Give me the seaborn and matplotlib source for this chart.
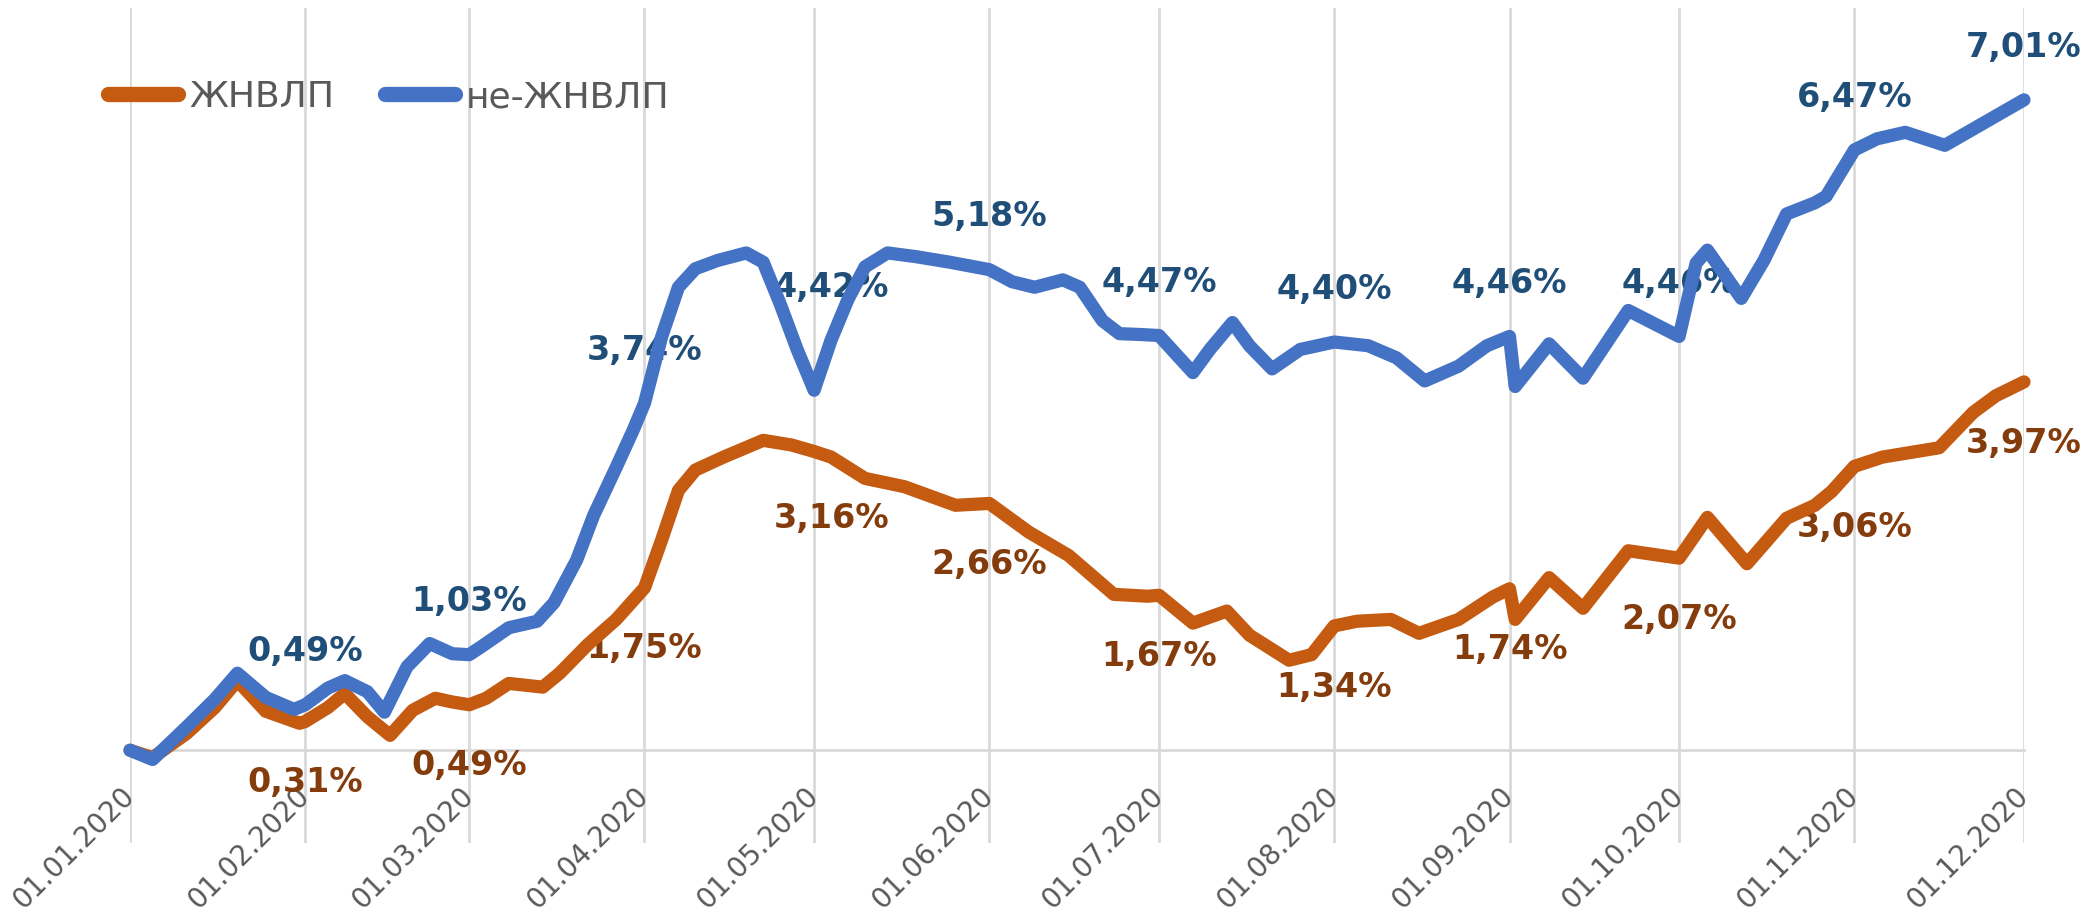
import numpy as np
import pandas as pd
import matplotlib
matplotlib.use("Agg")
import matplotlib.pyplot as plt
from matplotlib.lines import Line2D
from matplotlib.transforms import ScaledTranslation
import matplotlib.dates as mdates
import seaborn as sns

# ---- data -----------------------------------------------------------------
series_names = ["ЖНВЛП", "не-ЖНВЛП"]
start_date = "2020-01-01"
end_date = "2020-12-01"

# day offsets from 01.01.2020 and cumulative price change, %
vital_days = [0, 4, 10, 15, 19, 24, 30, 31, 35, 38, 42, 46, 50, 54, 57, 60,
              63, 67, 73, 76, 81, 86, 91, 94, 97, 100, 105, 112, 117, 121,
              124, 130, 137, 146, 152, 159, 166, 174, 180, 182, 188, 194,
              198, 205, 209, 213, 217, 223, 228, 235, 241, 244, 245, 251,
              257, 265, 274, 279, 286, 293, 298, 301, 305, 310, 320, 326,
              330, 335]
vital_values = [0.00, -0.08, 0.18, 0.46, 0.75, 0.42, 0.29, 0.31, 0.46, 0.61,
                0.36, 0.16, 0.43, 0.56, 0.52, 0.49, 0.56, 0.72, 0.68, 0.83,
                1.14, 1.41, 1.75, 2.26, 2.80, 3.02, 3.16, 3.34, 3.29, 3.22,
                3.16, 2.93, 2.84, 2.64, 2.66, 2.35, 2.10, 1.68, 1.66, 1.67,
                1.37, 1.50, 1.24, 0.97, 1.03, 1.34, 1.39, 1.41, 1.26, 1.41,
                1.65, 1.74, 1.41, 1.86, 1.53, 2.15, 2.07, 2.51, 2.01, 2.50,
                2.64, 2.79, 3.06, 3.16, 3.26, 3.64, 3.82, 3.97]

other_days = [0, 4, 10, 15, 19, 24, 29, 31, 35, 38, 42, 45, 49, 53, 57, 60,
              62, 67, 72, 75, 79, 82, 86, 89, 91, 94, 97, 100, 104, 109, 112,
              115, 118, 121, 124, 127, 130, 134, 139, 145, 152, 156, 160,
              165, 168, 172, 175, 179, 182, 185, 188, 191, 195, 198, 202,
              207, 213, 219, 224, 229, 235, 240, 244, 245, 251, 257, 265,
              274, 277, 279, 285, 289, 293, 298, 300, 305, 309, 314, 321,
              329, 335]
other_values = [0.00, -0.10, 0.25, 0.55, 0.83, 0.57, 0.44, 0.49, 0.67, 0.75,
                0.63, 0.41, 0.90, 1.15, 1.04, 1.03, 1.11, 1.32, 1.39, 1.59,
                2.05, 2.53, 3.05, 3.45, 3.74, 4.45, 4.99, 5.19, 5.28, 5.36,
                5.26, 4.81, 4.32, 3.88, 4.42, 4.86, 5.21, 5.36, 5.32, 5.26,
                5.18, 5.05, 4.99, 5.07, 4.99, 4.63, 4.49, 4.48, 4.47, 4.27,
                4.07, 4.32, 4.61, 4.36, 4.11, 4.32, 4.40, 4.36, 4.23, 3.98,
                4.14, 4.36, 4.46, 3.92, 4.38, 4.01, 4.74, 4.46, 5.25, 5.39,
                4.87, 5.28, 5.78, 5.90, 5.97, 6.47, 6.59, 6.66, 6.52, 6.80,
                7.01]

# days whose values are printed on the chart
label_days = [31, 60, 91, 124, 152, 182, 213, 244, 274, 305, 335]

# ---- styling --------------------------------------------------------------
line_colors = {"ЖНВЛП": "#C55A11", "не-ЖНВЛП": "#4472C4"}
label_colors = {"ЖНВЛП": "#843C0C", "не-ЖНВЛП": "#1F4E79"}
label_offsets = {"ЖНВЛП": -44, "не-ЖНВЛП": 38}   # points, below / above
grid_color = "#D9D9D9"
text_gray = "#595959"

sns.set_theme(style="white")
plt.rcParams["font.family"] = ["DejaVu Sans"]

W, H, DPI = 2098, 913, 100
fig = plt.figure(figsize=(W / DPI, H / DPI), dpi=DPI)
fig.patch.set_facecolor("white")
ax = fig.add_axes([130 / W, 1 - 843 / H, (2024 - 130) / W, (843 - 8) / H])

t0 = pd.Timestamp(start_date)
frames = []
for name, days, vals in [(series_names[0], vital_days, vital_values),
                         (series_names[1], other_days, other_values)]:
    frames.append(pd.DataFrame({
        "date": t0 + pd.to_timedelta(days, unit="D"),
        "day": days,
        "value": vals,
        "series": name,
    }))
df = pd.concat(frames, ignore_index=True)

sns.lineplot(data=df, x="date", y="value", hue="series",
             hue_order=series_names,
             palette=[line_colors[n] for n in series_names],
             linewidth=9.5, estimator=None, sort=False, legend=False, ax=ax)
for ln in ax.lines:
    ln.set_solid_capstyle("round")
    ln.set_solid_joinstyle("round")
    ln.set_zorder(3)
    ln.set_clip_on(False)

# value labels
for name in series_names:
    sub = df[df["series"] == name].set_index("day")
    for d in label_days:
        v = sub.loc[d, "value"]
        txt = f"{v:.2f}%".replace(".", ",")
        ax.annotate(txt, xy=(sub.loc[d, "date"], v),
                    xytext=(0, label_offsets[name]), textcoords="offset points",
                    ha="center", va="center", fontsize=24, fontweight="bold",
                    color=label_colors[name], zorder=2, annotation_clip=False)

# axes
ax.set_xlim(pd.Timestamp(start_date), pd.Timestamp(end_date))
ax.set_ylim(-1, 8)
ax.set_xlabel("")
ax.set_ylabel("")
ax.set_yticks([])
ax.xaxis.set_major_locator(mdates.MonthLocator())
ax.xaxis.set_major_formatter(mdates.DateFormatter("%d.%m.%Y"))
ax.grid(axis="x", color=grid_color, linewidth=2.0, zorder=0)
ax.grid(axis="y", visible=False)
for side in ["top", "left", "right"]:
    ax.spines[side].set_visible(False)
ax.spines["bottom"].set_position(("data", 0))
ax.spines["bottom"].set_color(grid_color)
ax.spines["bottom"].set_linewidth(2.0)
ax.spines["bottom"].set_zorder(1)
ax.tick_params(axis="x", length=0, pad=23, labelsize=20, labelcolor=text_gray)
shift = ScaledTranslation(-10 / DPI, 0, fig.dpi_scale_trans)
for lab in ax.get_xticklabels():
    lab.set_rotation(45)
    lab.set_ha("right")
    lab.set_va("top")
    lab.set_rotation_mode("anchor")
    lab.set_transform(lab.get_transform() + shift)

# legend
handles = [Line2D([], [], color=line_colors[n], linewidth=11,
                  solid_capstyle="round") for n in series_names]
fig.legend(handles, series_names, loc="center left",
           bbox_to_anchor=(108 / W, 1 - 97 / H), ncol=2, frameon=False,
           fontsize=26, labelcolor=text_gray, handlelength=1.95,
           handletextpad=0.3, columnspacing=1.4, borderpad=0,
           borderaxespad=0)

fig.savefig("out.png", dpi=DPI, facecolor="white")
